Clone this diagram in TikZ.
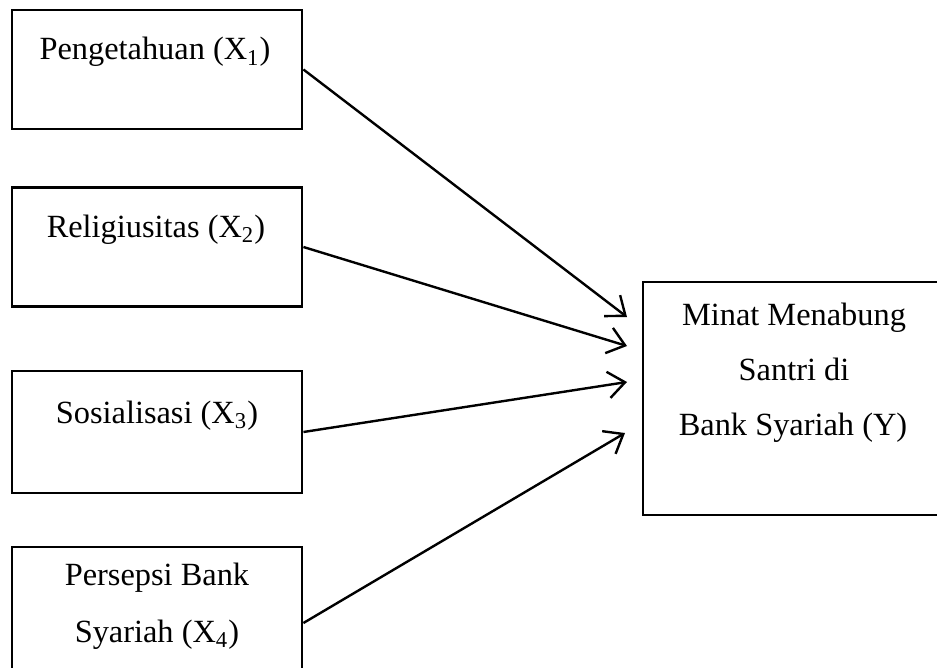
\documentclass[tikz,border=0pt]{standalone}
\usepackage{fontspec}
\setmainfont{Liberation Serif}
\usetikzlibrary{arrows.meta}

\begin{document}
\begin{tikzpicture}[x=0.417pt,y=-0.417pt]
    % Styles
    \tikzstyle{fleche}=[-{Straight Barb[length=7pt,width=11pt]},line width=1pt]
    \tikzstyle{kotak}=[draw,line width=1.2pt,inner sep=0pt]
    \tikzstyle{teks}=[anchor=base,inner sep=0pt,font=\fontsize{13.5}{16}\selectfont]
    % Dimensions
    \def\px{0.417pt}
    \def\LebarX{290*\px}
    % Cadre
    \clip (0,0) rectangle (937,668);
    % Kotak
    \node[kotak,minimum width=\LebarX,minimum height=119*\px] (X1) at (157,69.5) {};
    \node[kotak,minimum width=\LebarX,minimum height=119*\px] (X2) at (157,247) {};
    \node[kotak,minimum width=\LebarX,minimum height=122*\px] (X3) at (157,432) {};
    \node[kotak,minimum width=\LebarX,minimum height=152*\px] (X4) at (157,623) {};
    \node[kotak,minimum width=300*\px,minimum height=233*\px] (Y) at (793,398.5) {};
    % Teks
    \node[teks] (tX1) at (155,60) {Pengetahuan (X\textsubscript{1})};
    \node[teks] (tX2) at (156,237) {Religiusitas (X\textsubscript{2})};
    \node[teks] (tX3) at (157,423) {Sosialisasi (X\textsubscript{3})};
    \node[teks] (tX4a) at (157,585) {Persepsi Bank};
    \node[teks] (tX4b) at (157,642) {Syariah (X\textsubscript{4})};
    \node[teks] (tYa) at (794,325) {Minat Menabung};
    \node[teks] (tYb) at (794,380) {Santri di};
    \node[teks] (tYc) at (793,435) {Bank Syariah (Y)};
    % Ujung panah
    \coordinate (T1) at (627,317);
    \coordinate (T2) at (627,346);
    \coordinate (T3) at (627,382);
    \coordinate (T4) at (625,433);
    % Arcs
    \draw[fleche] (X1.east)--(T1) ;
    \draw[fleche] (X2.east)--(T2) ;
    \draw[fleche] (X3.east)--(T3) ;
    \draw[fleche] (X4.east)--(T4) ;
\end{tikzpicture}
\end{document}
